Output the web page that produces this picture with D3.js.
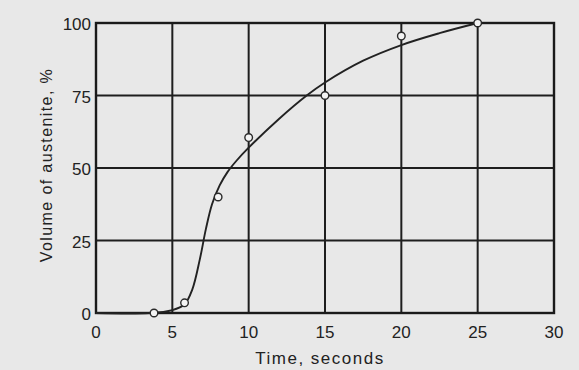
<!DOCTYPE html>
<html>
<head>
<meta charset="utf-8">
<script src="https://cdn.jsdelivr.net/npm/d3@7"></script>
<style>
  body { margin: 0; background: #e8e8e8; }
  svg { display: block; font-family: "Liberation Sans", Arial, sans-serif; }
</style>
</head>
<body>
<svg id="chart" width="579" height="370"></svg>
<script>
// measured points (open circles)
const timeSec = [3.8, 5.8, 8, 10, 15, 20, 25];
const austenite = [0, 3.5, 40, 60.5, 75, 95.5, 100];

// hand-drawn fit curve through the data
const curveTime = [0, 3.5, 5, 5.8, 6.3, 6.8, 7.2, 7.6, 8.1, 8.6, 9.2, 10, 12, 13.8, 15, 17.5, 20, 22.5, 25];
const curveVol = [0, 0, 1, 3, 8, 18.5, 29, 37.5, 44, 48.5, 52.5, 57, 67, 75, 79.5, 87, 92.4, 96.5, 100];

const xTicks = [0, 5, 10, 15, 20, 25, 30];
const yTicks = [0, 25, 50, 75, 100];

const svg = d3.select("#chart");
const plotL = 96, plotR = 554, plotT = 23, plotB = 313;

const x = d3.scaleLinear().domain([0, 30]).range([plotL, plotR]);
const y = d3.scaleLinear().domain([0, 100]).range([plotB, plotT]);

// grid
const grid = svg.append("g").attr("stroke", "#1e1e1e").attr("stroke-width", 2);
grid.selectAll(".vx").data(xTicks.slice(1, -1)).enter().append("line")
  .attr("x1", d => x(d)).attr("x2", d => x(d))
  .attr("y1", plotT).attr("y2", plotB);
grid.selectAll(".hy").data(yTicks.slice(1, -1)).enter().append("line")
  .attr("x1", plotL).attr("x2", plotR)
  .attr("y1", d => y(d)).attr("y2", d => y(d));

// frame
svg.append("rect")
  .attr("x", plotL).attr("y", plotT)
  .attr("width", plotR - plotL).attr("height", plotB - plotT)
  .attr("fill", "none").attr("stroke", "#1a1a1a").attr("stroke-width", 2.4);

// tick labels
svg.append("g").selectAll("text").data(yTicks).enter().append("text")
  .attr("x", 91).attr("y", d => y(d) + 7)
  .attr("text-anchor", "end")
  .attr("font-size", 17).attr("fill", "#222")
  .text(d => d);

svg.append("g").selectAll("text").data(xTicks).enter().append("text")
  .attr("x", d => x(d)).attr("y", 338)
  .attr("text-anchor", "middle")
  .attr("font-size", 17).attr("fill", "#222")
  .text(d => d);

// axis titles
svg.append("text")
  .attr("x", 320).attr("y", 364)
  .attr("text-anchor", "middle")
  .attr("font-size", 17).attr("letter-spacing", 1.5).attr("fill", "#222")
  .text("Time, seconds");

svg.append("text")
  .attr("transform", "translate(52,165) rotate(-90)")
  .attr("text-anchor", "middle")
  .attr("font-size", 16).attr("letter-spacing", 1.4).attr("fill", "#222")
  .text("Volume of austenite, %");

// fitted curve
const line = d3.line()
  .x((d, i) => x(curveTime[i]))
  .y((d, i) => y(curveVol[i]))
  .curve(d3.curveCatmullRom.alpha(0.5));

svg.append("path")
  .datum(curveTime)
  .attr("d", line)
  .attr("fill", "none")
  .attr("stroke", "#222")
  .attr("stroke-width", 1.9);

// markers
svg.append("g").selectAll("circle").data(timeSec).enter().append("circle")
  .attr("cx", d => x(d))
  .attr("cy", (d, i) => y(austenite[i]))
  .attr("r", 3.8)
  .attr("fill", "#f4f4f4")
  .attr("stroke", "#2a2a2a")
  .attr("stroke-width", 1.4);
</script>
</body>
</html>
